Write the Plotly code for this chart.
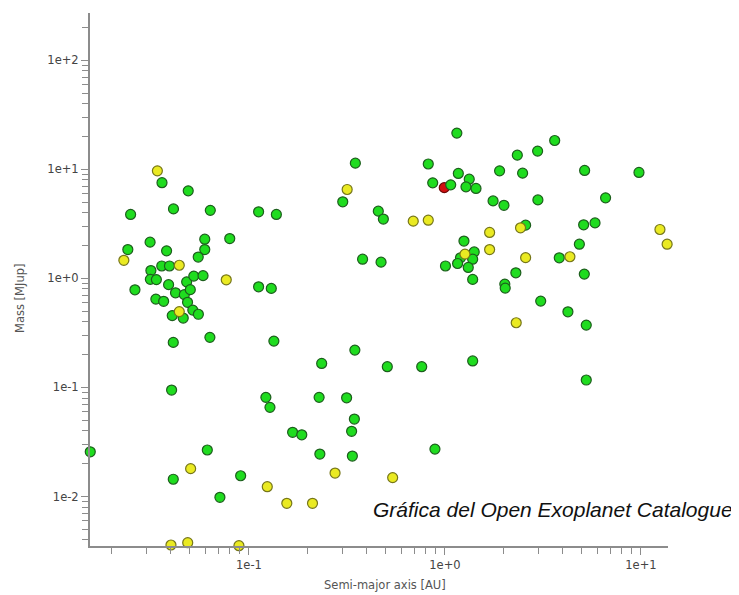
import plotly.graph_objects as go

# Semi-major axis [AU] and mass [MJup] per planet, grouped by marker colour
green_axis = [0.036, 0.049, 0.0249, 0.0412, 0.0635, 0.0313, 0.0595, 0.0798, 0.0241, 0.038,
              0.0595, 0.0551, 0.0359, 0.0393, 0.0316, 0.0314, 0.0337, 0.0389, 0.0481, 0.0523,
              0.0583, 0.0262, 0.0422, 0.0468, 0.0502, 0.0335, 0.0367, 0.0486, 0.0517, 0.0552,
              0.0406, 0.0462, 0.0411, 0.0632, 0.0403, 0.0155, 0.0613, 0.0411, 0.0907, 0.0711,
              1.077, 1.15, 0.349, 0.822, 1.17, 1.33, 0.866, 1.07, 1.28, 1.44,
              1.90, 0.301, 1.76, 2.0, 0.112, 0.138, 0.457, 0.485, 1.25, 1.41,
              1.20, 1.385, 1.16, 1.006, 1.315, 0.380, 0.472, 1.385, 0.112, 0.130,
              3.63, 2.97, 2.34, 2.49, 5.16, 9.77, 2.98, 6.6, 2.58, 5.10,
              5.83, 4.85, 3.83, 2.30, 5.14, 2.02, 2.03, 3.08, 4.24, 5.26,
              5.26, 0.134, 0.347, 0.235, 0.508, 0.761, 1.385, 0.122, 0.128, 0.228,
              0.315, 0.345, 0.334, 0.167, 0.186, 0.889, 0.230, 0.337]
green_mass = [7.55, 6.35, 3.86, 4.34, 4.21, 2.15, 2.29, 2.32, 1.84, 1.79,
              1.84, 1.57, 1.30, 1.30, 1.18, 0.98, 0.975, 0.877, 0.93, 1.05,
              1.06, 0.786, 0.738, 0.71, 0.789, 0.646, 0.617, 0.604, 0.512, 0.469,
              0.456, 0.433, 0.259, 0.288, 0.0947, 0.0257, 0.0267, 0.0144, 0.0155, 0.00983,
              274, 21.5, 11.4, 11.2, 9.17, 8.13, 7.52, 7.21, 6.91, 6.68,
              9.69, 5.04, 5.14, 4.68, 4.08, 3.86, 4.14, 3.50, 2.20, 1.75,
              1.545, 1.50, 1.37, 1.30, 1.26, 1.50, 1.41, 0.979, 0.838, 0.81,
              18.4, 14.7, 13.5, 9.23, 9.77, 9.37, 5.25, 5.48, 3.08, 3.10,
              3.23, 2.06, 1.545, 1.125, 1.095, 0.887, 0.815, 0.619, 0.494, 0.373,
              0.117, 0.266, 0.220, 0.166, 0.155, 0.155, 0.175, 0.0811, 0.0657, 0.0811,
              0.0804, 0.0513, 0.0396, 0.0388, 0.0368, 0.0272, 0.0245, 0.0235]

yellow_axis = [0.0341, 0.0230, 0.0441, 0.0766, 0.0441, 0.0504, 0.040, 0.0487, 0.0889, 0.317,
               0.689, 0.822, 1.69, 1.69, 2.43, 2.58, 4.34, 2.31, 12.5, 13.6,
               0.275, 0.541, 0.124, 0.156, 0.211, 1.265]
yellow_mass = [9.69, 1.465, 1.32, 0.971, 0.496, 0.018, 0.00359, 0.00377, 0.00354, 6.54,
               3.35, 3.42, 2.64, 1.84, 2.91, 1.55, 1.58, 0.392, 2.81, 2.06,
               0.0164, 0.0149, 0.0123, 0.00866, 0.00866, 1.67]

red_axis = [0.992]
red_mass = [6.80]

x_tickvals = [0.1, 1, 10]
x_ticktext = ["1e-1", "1e+0", "1e+1"]
y_tickvals = [0.01, 0.1, 1, 10, 100]
y_ticktext = ["1e-2", "1e-1", "1e+0", "1e+1", "1e+2"]

minor_vals = [m * 10.0 ** e for e in range(-3, 3) for m in range(2, 10)]

fig = go.Figure()


def add(xs, ys, fill, edge):
    fig.add_trace(go.Scatter(
        x=xs, y=ys, mode="markers", cliponaxis=False, showlegend=False,
        marker=dict(size=10, color=fill, line=dict(color=edge, width=1.2)),
    ))


add(red_axis, red_mass, "#d01010", "#6a0808")
add(green_axis, green_mass, "#1fdc1f", "#1d5e1d")
add(yellow_axis, yellow_mass, "#eaea22", "#76761a")

axis_common = dict(
    type="log", showline=True, linecolor="#8c8c8c", linewidth=2,
    ticks="outside", ticklen=7, tickcolor="#8c8c8c", tickwidth=1,
    showgrid=False, zeroline=False,
    tickfont=dict(family="DejaVu Sans", size=11.5, color="#444444"),
    tickmode="array",
)

fig.update_xaxes(
    **axis_common, range=[-1.811, 1.138],
    tickvals=x_tickvals, ticktext=x_ticktext,
    minor=dict(tickmode="array", tickvals=minor_vals, ticks="outside", ticklen=6,
               tickcolor="#8c8c8c", tickwidth=1, showgrid=False),
)
fig.update_yaxes(
    **axis_common, range=[-2.454, 2.434],
    tickvals=y_tickvals, ticktext=y_ticktext,
    minor=dict(tickmode="array", tickvals=minor_vals, ticks="outside", ticklen=6,
               tickcolor="#8c8c8c", tickwidth=1, showgrid=False),
)

# page body has an 8px margin; plot area in page pixels: x 90..668, y 13..546
OFF = 8
L, R, T, B = 90 - OFF, 71, 13 - OFF, 49
W, H = 739 - OFF, 595 - OFF
pw, ph = W - L - R, H - T - B


def px(xp):
    return (xp - OFF - L) / pw


def py(yp):
    return (H - B - (yp - OFF)) / ph


fig.update_layout(
    width=W, height=H,
    margin=dict(l=L, r=R, t=T, b=B),
    paper_bgcolor="white", plot_bgcolor="white",
    annotations=[
        dict(text="Semi-major axis [AU]", xref="paper", yref="paper",
             x=px(385), y=py(585), xanchor="center", yanchor="middle", showarrow=False,
             font=dict(family="DejaVu Sans", size=11.5, color="#555555")),
        dict(text="Mass [MJup]", xref="paper", yref="paper", textangle=-90,
             x=px(20), y=py(299), xanchor="center", yanchor="middle", showarrow=False,
             font=dict(family="DejaVu Sans", size=11.5, color="#555555")),
        dict(text="<i>Gráfica del Open Exoplanet Catalogue</i>", xref="paper", yref="paper",
             x=px(735), y=py(509), xanchor="right", yanchor="middle", showarrow=False,
             font=dict(family="Liberation Sans", size=21, color="#111111")),
    ],
)

fig.write_html("out.html")
